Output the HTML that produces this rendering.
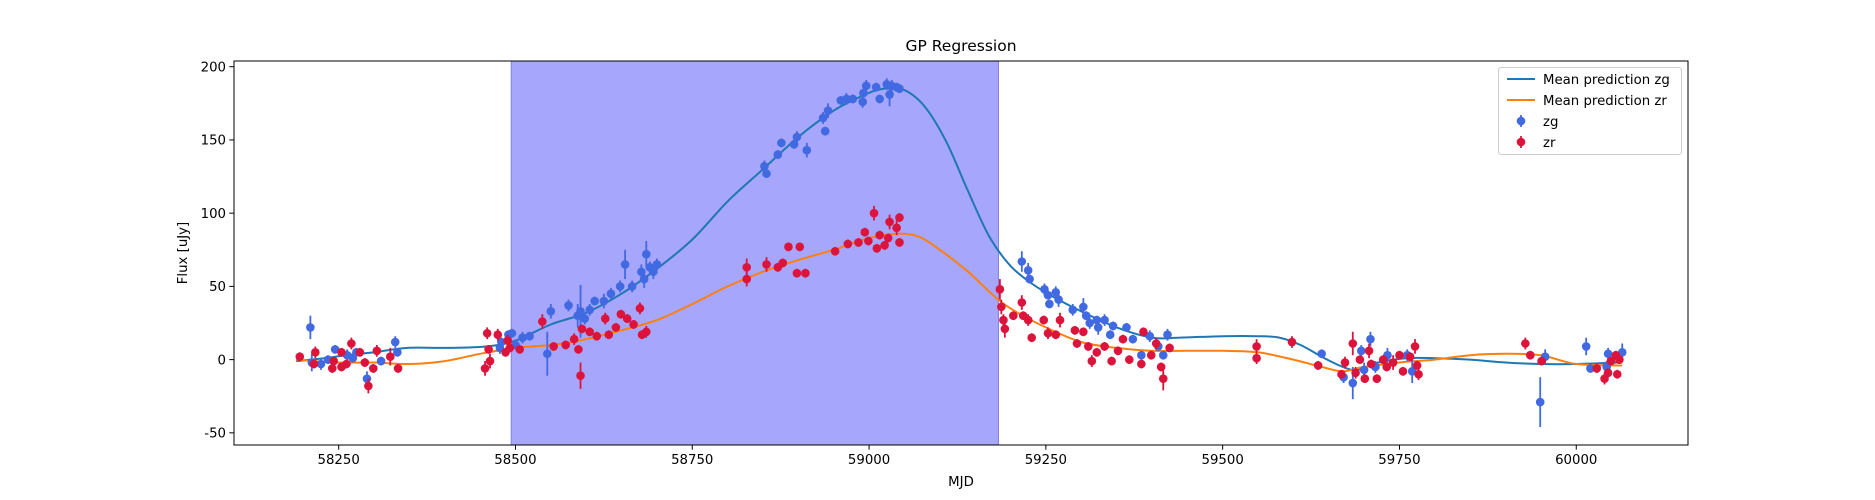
<!DOCTYPE html>
<html><head><meta charset="utf-8">
<style>
html,body{margin:0;padding:0;background:#fff;}
svg{display:block;font-family:"DejaVu Sans","Liberation Sans",sans-serif;}
</style></head>
<body>
<svg id="chart" width="1875" height="500" viewBox="0 0 1875 500" xmlns="http://www.w3.org/2000/svg">
<rect width="1875" height="500" fill="#fff"/>
<g id="plot"></g>
<text x="961" y="51" font-size="15.5" text-anchor="middle" fill="#000">GP Regression</text>
<text x="961" y="486" font-size="13.3" text-anchor="middle" fill="#000">MJD</text>
<text x="0" y="0" font-size="13.3" text-anchor="middle" fill="#000" transform="translate(187,253) rotate(-90)">Flux [uJy]</text>
<g>
<rect x="1498.5" y="67.5" width="183" height="87" rx="3" fill="#fff" fill-opacity="0.8" stroke="#ccc"/>
<line x1="1507" y1="79" x2="1535" y2="79" stroke="#1f77b4" stroke-width="2"/>
<text x="1543" y="84" font-size="13.3">Mean prediction zg</text>
<line x1="1507" y1="100" x2="1535" y2="100" stroke="#ff7f0e" stroke-width="2"/>
<text x="1543" y="105" font-size="13.3">Mean prediction zr</text>
<line x1="1521" y1="115" x2="1521" y2="127" stroke="#4169e1" stroke-width="1.8"/>
<circle cx="1521" cy="121" r="4.3" fill="#4169e1"/>
<text x="1543" y="126" font-size="13.3">zg</text>
<line x1="1521" y1="136" x2="1521" y2="148" stroke="#dc143c" stroke-width="1.8"/>
<circle cx="1521" cy="142" r="4.3" fill="#dc143c"/>
<text x="1543" y="147" font-size="13.3">zr</text>
</g>
</svg>
<script>
const xTicks=[58250,58500,58750,59000,59250,59500,59750,60000];
const yTicks=[-50,0,50,100,150,200];
const spanRange=[58494,59183];
const zgT=[58210,58212,58225,58235,58245,58262,58270,58275,58290,58310,58330,58333,58478,58480,58490,58495,58500,58510,58520,58545,58550,58575,58588,58592,58598,58605,58612,58625,58635,58648,58655,58665,58678,58682,58685,58690,58695,58700,
58852,58855,58871,58876,58894,58898,58912,58935,58938,58942,58960,58968,58977,58991,58992,58996,59010,59015,59025,59029,59032,59039,59043,
59216,59225,59227,59248,59253,59255,59264,59268,59288,59303,59307,59312,59322,59324,59333,59341,59345,59364,59373,59385,59397,59409,59416,59422,
59640,59671,59684,59696,59700,59709,59716,59733,59761,59768,59949,59956,60014,60020,60043,60045,60065];
const zgF=[22,-2,-3,0,7,3,1,5,-13,-1,12,5,8,12,17,18,10,15,16,4,33,37,30,33,28,34,40,40,45,50,65,50,60,55,72,63,60,65,
132,127,140,148,147,152,143,165,156,170,177,178,178,176,182,187,186,178,188,181,187,186,185,
67,61,55,48,44,38,46,41,34,36,30,25,27,22,27,17,23,22,14,3,16,9,3,17,
4,-12,-16,6,-7,14,-5,3,3,-8,-29,2,9,-6,-5,4,5];
const zgE=[8,6,4,3,3,4,3,3,5,3,4,3,4,3,3,3,3,4,3,15,5,4,8,18,4,4,3,5,4,4,10,4,5,6,9,4,5,4,
4,3,3,3,3,4,5,4,3,5,3,4,3,4,3,4,3,3,4,8,4,3,3,
7,5,3,4,3,3,4,5,4,6,3,4,3,5,4,3,3,3,3,3,4,3,3,4,
3,4,11,4,5,5,4,5,4,8,17,5,6,3,4,4,6];
const zrT=[58195,58215,58217,58241,58243,58254,58254,58261,58268,58280,58287,58292,58299,58304,58323,58334,
58457,58460,58462,58464,58475,58486,58489,58492,58506,58538,58554,58571,58583,58589,58592,58594,58605,58615,58627,58632,58642,58649,58658,58667,58676,58679,58685,
58827,58827,58855,58871,58878,58886,58902,58898,58910,58952,58970,58985,58994,58999,59007,59011,59015,59022,59027,59029,59039,59043,59043,
59185,59187,59190,59192,59204,59216,59218,59225,59230,59247,59253,59264,59270,59291,59294,59303,59310,59315,59322,59333,59343,59352,59359,59368,59385,59388,59399,59413,59416,59406,59425,
59548,59548,59598,59635,59668,59673,59684,59688,59694,59701,59707,59710,59718,59727,59732,59741,59750,59755,59765,59772,59777,59775,59928,59935,59951,60029,60040,60045,60049,60056,60058,60061];
const zrF=[2,-3,5,-6,-1,-5,5,-3,11,5,-2,-18,-6,6,2,-6,
-6,18,7,-1,17,5,13,8,7,26,9,10,14,7,-11,21,19,16,28,17,22,31,28,24,35,17,19,
63,55,65,63,66,77,77,59,59,74,79,80,87,81,100,76,85,78,83,94,90,97,80,
48,36,27,21,30,39,30,27,15,27,18,17,27,20,11,19,9,-1,5,9,-1,6,14,0,-3,19,3,-5,-13,11,8,
9,1,12,-4,-10,-2,11,-9,0,-13,6,-3,-13,0,-5,-2,3,-8,2,9,-10,-4,11,3,-1,-6,-13,-9,-1,3,-10,0];
const zrE=[3,3,4,3,3,3,3,3,4,3,3,5,3,4,6,3,
5,4,3,5,4,3,4,3,3,5,3,3,4,3,9,3,3,3,4,3,3,3,3,3,4,3,4,
6,5,5,3,3,3,3,3,3,3,3,3,3,3,5,3,3,3,3,5,5,3,3,
7,5,4,6,3,5,3,4,3,3,4,3,5,3,3,3,3,4,3,3,3,3,3,3,3,3,3,3,8,4,3,
5,4,4,3,3,4,8,4,3,3,5,3,3,3,3,5,3,3,3,5,4,3,4,3,3,3,4,3,3,3,3,3];
const zgCurveT=[58190,58230,58260,58300,58347,58400,58460,58500,58550,58600,58650,58700,58750,58800,58850,58900,58950,58990,59020,59050,59080,59110,59140,59170,59200,59230,59260,59300,59350,59400,59440,59500,59550,59580,59610,59640,59670,59690,59720,59760,59800,59850,59900,59950,60000,60065];
const zgCurveF=[-1,1,3,5,8,8,9,13,24,32,45,62,82,108,130,152,170,180,185,184,172,148,115,84,64,52,43,33,22,15,15,16,16,15,10,2,-5,-7,-2,1,1,0,-2,-3,-3,-2];
const zrCurveT=[58190,58250,58300,58350,58400,58450,58500,58550,58600,58650,58700,58750,58800,58850,58900,58950,59000,59040,59070,59100,59140,59180,59210,59250,59300,59350,59400,59450,59500,59550,59600,59640,59670,59700,59750,59800,59850,59900,59950,60000,60065];
const zrCurveF=[0,-2,-2,-3,-1,4,8,10,14,20,27,38,50,60,68,75,83,86,84,75,60,42,32,22,12,8,6,6,6,5,0,-5,-8,-5,-2,0,3,4,3,-3,-4];

const L=234,R=1688,T=61,B=445;
const xMin=58102,xMax=60158,yMin=-58.3,yMax=203.9;
const X=v=>L+(v-xMin)/(xMax-xMin)*(R-L);
const Y=v=>B-(v-yMin)/(yMax-yMin)*(B-T);
const NS='http://www.w3.org/2000/svg';
const plot=document.getElementById('plot');
function mk(tag,attrs,parent){const e=document.createElementNS(NS,tag);for(const k in attrs)e.setAttribute(k,attrs[k]);(parent||plot).appendChild(e);return e;}

const clip=mk('clipPath',{id:'pc'});mk('rect',{x:L,y:T,width:R-L,height:B-T},clip);
const span=mk('rect',{x:X(spanRange[0]),y:T,width:X(spanRange[1])-X(spanRange[0]),height:B-T,fill:'#a6a6fd',stroke:'#7f7ff0','stroke-width':1});



function curve(ts,fs,color,name){
  const P=ts.map((t,i)=>[X(t),Y(fs[i])]);
  let d='M'+P[0][0].toFixed(1)+','+P[0][1].toFixed(1);
  for(let i=0;i<P.length-1;i++){
    const p0=P[Math.max(0,i-1)],p1=P[i],p2=P[i+1],p3=P[Math.min(P.length-1,i+2)];
    const c1=[p1[0]+(p2[0]-p0[0])/6,p1[1]+(p2[1]-p0[1])/6];
    const c2=[p2[0]-(p3[0]-p1[0])/6,p2[1]-(p3[1]-p1[1])/6];
    d+='C'+c1[0].toFixed(1)+','+c1[1].toFixed(1)+' '+c2[0].toFixed(1)+','+c2[1].toFixed(1)+' '+p2[0].toFixed(1)+','+p2[1].toFixed(1);
  }
  const p=mk('path',{d:d,fill:'none',stroke:color,'stroke-width':2,'stroke-linejoin':'round','clip-path':'url(#pc)'});
  
  
}
curve(zgCurveT,zgCurveF,'#1f77b4','mean-curve-zg');
curve(zrCurveT,zrCurveF,'#ff7f0e','mean-curve-zr');

function points(ts,fs,es,color,name){
  const g=mk('g',{'clip-path':'url(#pc)'});
  
  
  ts.forEach((t,i)=>{
    mk('line',{x1:X(t),x2:X(t),y1:Y(fs[i]-es[i]),y2:Y(fs[i]+es[i]),stroke:color,'stroke-width':1.8},g);
    const c=mk('circle',{cx:X(t),cy:Y(fs[i]),r:4.3,fill:color},g);
    
    
  });
}
points(zgT,zgF,zgE,'#4169e1','points-zg');
points(zrT,zrF,zrE,'#dc143c','points-zr');

const frame=mk('rect',{x:L,y:T,width:R-L,height:B-T,fill:'none',stroke:'#000','stroke-width':1});



xTicks.forEach(v=>{
  mk('line',{x1:X(v),x2:X(v),y1:B,y2:B+4.7,stroke:'#000','stroke-width':1});
  const t=mk('text',{x:X(v),y:B+19,'font-size':13.3,'text-anchor':'middle'});
  t.textContent=v;
  
  
});
yTicks.forEach(v=>{
  mk('line',{x1:L-4.7,x2:L,y1:Y(v),y2:Y(v),stroke:'#000','stroke-width':1});
  const t=mk('text',{x:L-8,y:Y(v)+4.8,'font-size':13.3,'text-anchor':'end'});
  t.textContent=v;
  
  
});
</script>
</body></html>
